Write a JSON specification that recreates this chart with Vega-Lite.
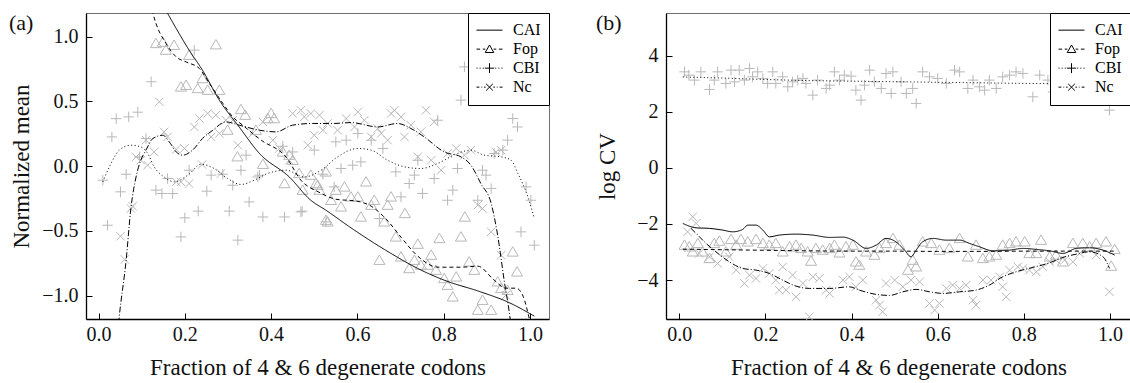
{
  "$schema": "https://vega.github.io/schema/vega-lite/v6.json",
  "padding": {"left": 8, "top": 11, "right": 0, "bottom": 0},
  "spacing": 45,
  "config": {
    "font": "Liberation Serif",
    "view": {"stroke": "#707070", "strokeWidth": 1},
    "axis": {"grid": false, "domainColor": "#000", "domainWidth": 1.3, "tickColor": "#000", "tickSize": -6, "tickWidth": 1,
      "labelFont": "Liberation Serif", "labelFontSize": 20, "labelColor": "#111",
      "titleFont": "Liberation Serif", "titleFontSize": 23, "titleFontWeight": "normal", "titleColor": "#111"},
    "axisX": {"labelPadding": 11, "titlePadding": 12},
    "axisY": {"labelPadding": 14},
    "legend": {"title": null, "orient": "top-right", "offset": 0, "padding": 8, "strokeColor": "#000", "fillColor": "#fff",
      "symbolSize": 676, "symbolStrokeWidth": 1, "symbolStrokeColor": "#000", "symbolFillColor": "transparent", "symbolOpacity": 1,
      "clipHeight": 18.3,
      "labelFont": "Liberation Serif", "labelFontSize": 16, "labelColor": "#000", "labelOffset": 10, "rowPadding": 0},
    "title": {"anchor": "start", "frame": "group", "offset": 0, "fontSize": 22, "font": "Liberation Serif", "fontWeight": "normal", "color": "#111"}
  },
  "resolve": {"scale": {"shape": "independent", "strokeDash": "independent"}, "legend": {"shape": "independent"}},
  "datasets": {
    "aPts": [
      {"s":"Fop","x":0.133,"y":0.948},{"s":"Fop","x":0.149,"y":0.958},{"s":"Fop","x":0.156,"y":0.896},{"s":"Fop","x":0.175,"y":0.934},
      {"s":"Fop","x":0.272,"y":0.938},{"s":"Fop","x":0.210,"y":0.857},{"s":"Fop","x":0.241,"y":0.677},{"s":"Fop","x":0.191,"y":0.612},
      {"s":"Fop","x":0.203,"y":0.625},{"s":"Fop","x":0.230,"y":0.600},{"s":"Fop","x":0.253,"y":0.587},{"s":"Fop","x":0.280,"y":0.587},
      {"s":"Fop","x":0.330,"y":0.438},{"s":"Fop","x":0.340,"y":0.394},{"s":"Fop","x":0.299,"y":0.278},{"s":"Fop","x":0.400,"y":0.407},
      {"s":"Fop","x":0.407,"y":0.368},{"s":"Fop","x":0.392,"y":0.368},{"s":"Fop","x":0.365,"y":0.278},{"s":"Fop","x":0.322,"y":0.073},
      {"s":"Fop","x":0.381,"y":0.015},{"s":"Fop","x":0.427,"y":0.110},{"s":"Fop","x":0.442,"y":0.085},{"s":"Fop","x":0.450,"y":0.046},
      {"s":"Fop","x":0.465,"y":-0.056},{"s":"Fop","x":0.492,"y":-0.069},{"s":"Fop","x":0.527,"y":-0.044},{"s":"Fop","x":0.431,"y":-0.134},
      {"s":"Fop","x":0.473,"y":-0.185},{"s":"Fop","x":0.504,"y":-0.134},{"s":"Fop","x":0.512,"y":-0.185},{"s":"Fop","x":0.527,"y":-0.417},
      {"s":"Fop","x":0.508,"y":-0.147},{"s":"Fop","x":0.550,"y":-0.185},{"s":"Fop","x":0.570,"y":-0.160},{"s":"Fop","x":0.562,"y":-0.314},
      {"s":"Fop","x":0.539,"y":-0.263},{"s":"Fop","x":0.601,"y":-0.237},{"s":"Fop","x":0.585,"y":-0.237},{"s":"Fop","x":0.620,"y":-0.121},
      {"s":"Fop","x":0.639,"y":-0.263},{"s":"Fop","x":0.632,"y":-0.301},{"s":"Fop","x":0.678,"y":-0.237},{"s":"Fop","x":0.670,"y":-0.301},
      {"s":"Fop","x":0.710,"y":-0.365},{"s":"Fop","x":0.608,"y":-0.392},{"s":"Fop","x":0.662,"y":-0.430},{"s":"Fop","x":0.531,"y":-0.430},
      {"s":"Fop","x":0.689,"y":-0.546},{"s":"Fop","x":0.740,"y":-0.602},{"s":"Fop","x":0.790,"y":-0.558},{"s":"Fop","x":0.840,"y":-0.546},
      {"s":"Fop","x":0.849,"y":-0.392},{"s":"Fop","x":0.651,"y":-0.726},{"s":"Fop","x":0.701,"y":-0.700},{"s":"Fop","x":0.720,"y":-0.790},
      {"s":"Fop","x":0.732,"y":-0.726},{"s":"Fop","x":0.747,"y":-0.764},{"s":"Fop","x":0.771,"y":-0.687},{"s":"Fop","x":0.763,"y":-0.764},
      {"s":"Fop","x":0.782,"y":-0.803},{"s":"Fop","x":0.809,"y":-0.919},{"s":"Fop","x":0.829,"y":-0.855},{"s":"Fop","x":0.801,"y":-0.867},
      {"s":"Fop","x":0.859,"y":-0.739},{"s":"Fop","x":0.871,"y":-0.803},{"s":"Fop","x":0.925,"y":-0.893},{"s":"Fop","x":0.933,"y":-0.944},
      {"s":"Fop","x":0.890,"y":-1.035},{"s":"Fop","x":0.821,"y":-1.009},{"s":"Fop","x":0.879,"y":-1.112},{"s":"Fop","x":0.910,"y":-1.112},
      {"s":"Fop","x":0.960,"y":-0.662},{"s":"Fop","x":0.970,"y":-0.816},{"s":"Fop","x":0.948,"y":-0.958},
      {"s":"CBI","x":0.222,"y":0.896},{"s":"CBI","x":0.122,"y":0.652},{"s":"CBI","x":0.041,"y":0.367},{"s":"CBI","x":0.070,"y":0.381},
      {"s":"CBI","x":0.091,"y":0.417},{"s":"CBI","x":0.031,"y":0.226},{"s":"CBI","x":0.110,"y":0.214},{"s":"CBI","x":0.095,"y":0.072},
      {"s":"CBI","x":0.210,"y":-0.031},{"s":"CBI","x":0.261,"y":-0.069},{"s":"CBI","x":0.288,"y":-0.062},{"s":"CBI","x":0.330,"y":-0.031},
      {"s":"CBI","x":0.342,"y":0.085},{"s":"CBI","x":0.373,"y":-0.069},{"s":"CBI","x":0.427,"y":0.154},{"s":"CBI","x":0.450,"y":0.110},
      {"s":"CBI","x":0.500,"y":0.124},{"s":"CBI","x":0.520,"y":-0.062},{"s":"CBI","x":0.064,"y":-0.062},{"s":"CBI","x":0.010,"y":-0.108},
      {"s":"CBI","x":0.051,"y":-0.198},{"s":"CBI","x":0.021,"y":-0.456},{"s":"CBI","x":0.133,"y":-0.185},{"s":"CBI","x":0.147,"y":-0.211},
      {"s":"CBI","x":0.172,"y":-0.211},{"s":"CBI","x":0.200,"y":-0.399},{"s":"CBI","x":0.231,"y":-0.347},{"s":"CBI","x":0.191,"y":-0.546},
      {"s":"CBI","x":0.251,"y":-0.193},{"s":"CBI","x":0.303,"y":-0.347},{"s":"CBI","x":0.323,"y":-0.571},{"s":"CBI","x":0.349,"y":-0.276},
      {"s":"CBI","x":0.381,"y":-0.392},{"s":"CBI","x":0.369,"y":-0.083},{"s":"CBI","x":0.431,"y":-0.392},{"s":"CBI","x":0.472,"y":-0.347},
      {"s":"CBI","x":0.311,"y":-0.147},{"s":"CBI","x":0.160,"y":-0.095},{"s":"CBI","x":0.527,"y":-0.430},{"s":"CBI","x":0.550,"y":0.188},
      {"s":"CBI","x":0.574,"y":0.201},{"s":"CBI","x":0.601,"y":0.253},{"s":"CBI","x":0.632,"y":0.201},{"s":"CBI","x":0.659,"y":0.137},
      {"s":"CBI","x":0.562,"y":-0.018},{"s":"CBI","x":0.589,"y":0.008},{"s":"CBI","x":0.608,"y":0.033},{"s":"CBI","x":0.689,"y":-0.044},
      {"s":"CBI","x":0.732,"y":-0.069},{"s":"CBI","x":0.720,"y":-0.134},{"s":"CBI","x":0.740,"y":0.046},{"s":"CBI","x":0.778,"y":-0.095},
      {"s":"CBI","x":0.786,"y":0.355},{"s":"CBI","x":0.821,"y":-0.185},{"s":"CBI","x":0.809,"y":-0.263},{"s":"CBI","x":0.751,"y":-0.211},
      {"s":"CBI","x":0.701,"y":-0.237},{"s":"CBI","x":0.832,"y":-0.018},{"s":"CBI","x":0.890,"y":-0.031},{"s":"CBI","x":0.898,"y":-0.069},
      {"s":"CBI","x":0.910,"y":-0.172},{"s":"CBI","x":0.879,"y":-0.263},{"s":"CBI","x":0.840,"y":0.510},{"s":"CBI","x":0.848,"y":0.767},
      {"s":"CBI","x":0.960,"y":0.368},{"s":"CBI","x":0.971,"y":0.303},{"s":"CBI","x":0.948,"y":0.201},{"s":"CBI","x":0.937,"y":0.124},
      {"s":"CBI","x":0.917,"y":0.098},{"s":"CBI","x":0.991,"y":-0.160},{"s":"CBI","x":1.002,"y":-0.263},{"s":"CBI","x":0.979,"y":-0.507},
      {"s":"CBI","x":1.010,"y":-0.610},{"s":"CBI","x":0.546,"y":-0.160},{"s":"CBI","x":0.651,"y":-0.404},{"s":"CBI","x":0.469,"y":-0.353},
      {"s":"Nc","x":0.141,"y":0.497},{"s":"Nc","x":0.152,"y":0.265},{"s":"Nc","x":0.160,"y":0.226},{"s":"Nc","x":0.180,"y":0.129},
      {"s":"Nc","x":0.199,"y":0.137},{"s":"Nc","x":0.110,"y":0.201},{"s":"Nc","x":0.129,"y":0.110},{"s":"Nc","x":0.087,"y":0.072},
      {"s":"Nc","x":0.098,"y":0.046},{"s":"Nc","x":0.114,"y":0.008},{"s":"Nc","x":0.222,"y":0.303},{"s":"Nc","x":0.234,"y":0.368},
      {"s":"Nc","x":0.253,"y":0.407},{"s":"Nc","x":0.272,"y":0.394},{"s":"Nc","x":0.261,"y":0.226},{"s":"Nc","x":0.280,"y":0.253},
      {"s":"Nc","x":0.295,"y":0.355},{"s":"Nc","x":0.311,"y":0.355},{"s":"Nc","x":0.323,"y":0.162},{"s":"Nc","x":0.357,"y":0.253},
      {"s":"Nc","x":0.381,"y":0.342},{"s":"Nc","x":0.404,"y":0.201},{"s":"Nc","x":0.419,"y":0.137},{"s":"Nc","x":0.450,"y":0.407},
      {"s":"Nc","x":0.469,"y":0.432},{"s":"Nc","x":0.512,"y":0.394},{"s":"Nc","x":0.500,"y":0.239},{"s":"Nc","x":0.485,"y":0.162},
      {"s":"Nc","x":0.240,"y":0.013},{"s":"Nc","x":0.284,"y":-0.056},{"s":"Nc","x":0.051,"y":-0.541},{"s":"Nc","x":0.061,"y":-0.720},
      {"s":"Nc","x":0.075,"y":-0.327},{"s":"Nc","x":0.079,"y":-0.309},{"s":"Nc","x":0.180,"y":-0.121},{"s":"Nc","x":0.191,"y":-0.121},
      {"s":"Nc","x":0.210,"y":-0.134},{"s":"Nc","x":0.442,"y":0.046},{"s":"Nc","x":0.477,"y":0.381},{"s":"Nc","x":0.492,"y":0.407},
      {"s":"Nc","x":0.520,"y":0.278},{"s":"Nc","x":0.531,"y":0.330},{"s":"Nc","x":0.554,"y":0.278},{"s":"Nc","x":0.574,"y":0.368},
      {"s":"Nc","x":0.593,"y":0.303},{"s":"Nc","x":0.601,"y":0.419},{"s":"Nc","x":0.616,"y":0.355},{"s":"Nc","x":0.632,"y":0.226},
      {"s":"Nc","x":0.647,"y":0.291},{"s":"Nc","x":0.655,"y":0.253},{"s":"Nc","x":0.678,"y":0.407},{"s":"Nc","x":0.686,"y":0.432},
      {"s":"Nc","x":0.701,"y":0.381},{"s":"Nc","x":0.709,"y":0.226},{"s":"Nc","x":0.724,"y":0.317},{"s":"Nc","x":0.747,"y":0.265},
      {"s":"Nc","x":0.759,"y":0.432},{"s":"Nc","x":0.778,"y":0.342},{"s":"Nc","x":0.670,"y":0.201},{"s":"Nc","x":0.740,"y":0.072},
      {"s":"Nc","x":0.771,"y":0.046},{"s":"Nc","x":0.794,"y":-0.031},{"s":"Nc","x":0.809,"y":0.098},{"s":"Nc","x":0.829,"y":0.137},
      {"s":"Nc","x":0.848,"y":0.085},{"s":"Nc","x":0.863,"y":0.124},{"s":"Nc","x":0.879,"y":-0.301},{"s":"Nc","x":0.890,"y":-0.327},
      {"s":"Nc","x":0.910,"y":-0.507},{"s":"Nc","x":0.921,"y":0.110},{"s":"Nc","x":0.933,"y":0.124},{"s":"Nc","x":0.933,"y":-0.687},
      {"s":"Nc","x":0.944,"y":-0.996}
    ],
    "aLines": [
      {"s":"CAI","x":0.13,"y":1.36},{"s":"CAI","x":0.160,"y":1.181},{"s":"CAI","x":0.210,"y":0.896},{"s":"CAI","x":0.241,"y":0.741},
      {"s":"CAI","x":0.280,"y":0.510},{"s":"CAI","x":0.326,"y":0.303},{"s":"CAI","x":0.373,"y":0.098},{"s":"CAI","x":0.442,"y":-0.083},
      {"s":"CAI","x":0.492,"y":-0.263},{"s":"CAI","x":0.527,"y":-0.340},{"s":"CAI","x":0.593,"y":-0.494},{"s":"CAI","x":0.678,"y":-0.674},
      {"s":"CAI","x":0.740,"y":-0.790},{"s":"CAI","x":0.801,"y":-0.880},{"s":"CAI","x":0.886,"y":-0.971},{"s":"CAI","x":0.948,"y":-1.048},
      {"s":"CAI","x":1.010,"y":-1.158},
      {"s":"Fop","x":0.12,"y":1.26},{"s":"Fop","x":0.126,"y":1.181},{"s":"Fop","x":0.133,"y":1.104},{"s":"Fop","x":0.156,"y":0.950},
      {"s":"Fop","x":0.180,"y":0.844},{"s":"Fop","x":0.203,"y":0.805},{"s":"Fop","x":0.234,"y":0.754},{"s":"Fop","x":0.257,"y":0.639},
      {"s":"Fop","x":0.288,"y":0.486},{"s":"Fop","x":0.311,"y":0.381},{"s":"Fop","x":0.334,"y":0.317},{"s":"Fop","x":0.377,"y":0.201},
      {"s":"Fop","x":0.435,"y":0.069},{"s":"Fop","x":0.469,"y":-0.108},{"s":"Fop","x":0.511,"y":-0.201},{"s":"Fop","x":0.550,"y":-0.255},
      {"s":"Fop","x":0.599,"y":-0.270},{"s":"Fop","x":0.632,"y":-0.309},{"s":"Fop","x":0.671,"y":-0.425},{"s":"Fop","x":0.701,"y":-0.548},
      {"s":"Fop","x":0.740,"y":-0.695},{"s":"Fop","x":0.787,"y":-0.780},{"s":"Fop","x":0.840,"y":-0.780},{"s":"Fop","x":0.879,"y":-0.772},
      {"s":"Fop","x":0.917,"y":-0.880},{"s":"Fop","x":0.944,"y":-0.942},{"s":"Fop","x":0.968,"y":-0.942},{"s":"Fop","x":0.984,"y":-1.004},
      {"s":"Fop","x":0.998,"y":-1.174},
      {"s":"CBI","x":0.010,"y":-0.121},{"s":"CBI","x":0.029,"y":0.021},{"s":"CBI","x":0.048,"y":0.124},{"s":"CBI","x":0.075,"y":0.162},
      {"s":"CBI","x":0.098,"y":0.149},{"s":"CBI","x":0.114,"y":0.098},{"s":"CBI","x":0.129,"y":-0.005},{"s":"CBI","x":0.152,"y":-0.083},
      {"s":"CBI","x":0.176,"y":-0.121},{"s":"CBI","x":0.207,"y":-0.069},{"s":"CBI","x":0.238,"y":0.015},{"s":"CBI","x":0.268,"y":-0.018},
      {"s":"CBI","x":0.299,"y":-0.095},{"s":"CBI","x":0.330,"y":-0.141},{"s":"CBI","x":0.361,"y":-0.108},{"s":"CBI","x":0.392,"y":-0.056},
      {"s":"CBI","x":0.435,"y":-0.031},{"s":"CBI","x":0.477,"y":-0.083},{"s":"CBI","x":0.516,"y":-0.031},{"s":"CBI","x":0.554,"y":0.072},
      {"s":"CBI","x":0.601,"y":0.137},{"s":"CBI","x":0.632,"y":0.124},{"s":"CBI","x":0.670,"y":0.046},{"s":"CBI","x":0.709,"y":-0.005},
      {"s":"CBI","x":0.747,"y":-0.018},{"s":"CBI","x":0.786,"y":0.021},{"s":"CBI","x":0.832,"y":0.098},{"s":"CBI","x":0.863,"y":0.124},
      {"s":"CBI","x":0.894,"y":0.085},{"s":"CBI","x":0.933,"y":0.072},{"s":"CBI","x":0.956,"y":0.046},{"s":"CBI","x":0.972,"y":-0.056},
      {"s":"CBI","x":0.995,"y":-0.237},{"s":"CBI","x":1.010,"y":-0.404},
      {"s":"Nc","x":0.044,"y":-1.30},{"s":"Nc","x":0.048,"y":-1.164},{"s":"Nc","x":0.064,"y":-0.726},{"s":"Nc","x":0.075,"y":-0.327},
      {"s":"Nc","x":0.087,"y":-0.083},{"s":"Nc","x":0.098,"y":0.046},{"s":"Nc","x":0.110,"y":0.124},{"s":"Nc","x":0.126,"y":0.214},
      {"s":"Nc","x":0.149,"y":0.239},{"s":"Nc","x":0.164,"y":0.188},{"s":"Nc","x":0.180,"y":0.110},{"s":"Nc","x":0.195,"y":0.085},
      {"s":"Nc","x":0.218,"y":0.124},{"s":"Nc","x":0.241,"y":0.214},{"s":"Nc","x":0.265,"y":0.278},{"s":"Nc","x":0.295,"y":0.342},
      {"s":"Nc","x":0.326,"y":0.317},{"s":"Nc","x":0.373,"y":0.278},{"s":"Nc","x":0.411,"y":0.265},{"s":"Nc","x":0.450,"y":0.317},
      {"s":"Nc","x":0.496,"y":0.330},{"s":"Nc","x":0.546,"y":0.330},{"s":"Nc","x":0.585,"y":0.337},{"s":"Nc","x":0.647,"y":0.303},
      {"s":"Nc","x":0.693,"y":0.330},{"s":"Nc","x":0.724,"y":0.291},{"s":"Nc","x":0.755,"y":0.226},{"s":"Nc","x":0.801,"y":0.110},
      {"s":"Nc","x":0.840,"y":0.072},{"s":"Nc","x":0.863,"y":0.008},{"s":"Nc","x":0.886,"y":-0.134},{"s":"Nc","x":0.910,"y":-0.288},
      {"s":"Nc","x":0.925,"y":-0.533},{"s":"Nc","x":0.940,"y":-0.880},{"s":"Nc","x":0.954,"y":-1.181},{"s":"Nc","x":0.958,"y":-1.30}
    ],
    "bPts": [
      {"s":"CBI","x":0.012,"y":3.422},{"s":"CBI","x":0.022,"y":3.305},{"s":"CBI","x":0.035,"y":3.127},{"s":"CBI","x":0.050,"y":3.422},
      {"s":"CBI","x":0.070,"y":2.795},{"s":"CBI","x":0.081,"y":3.127},{"s":"CBI","x":0.089,"y":3.422},{"s":"CBI","x":0.108,"y":3.009},
      {"s":"CBI","x":0.120,"y":3.483},{"s":"CBI","x":0.128,"y":3.066},{"s":"CBI","x":0.139,"y":3.483},{"s":"CBI","x":0.151,"y":3.127},
      {"s":"CBI","x":0.163,"y":3.544},{"s":"CBI","x":0.170,"y":3.244},{"s":"CBI","x":0.182,"y":3.422},{"s":"CBI","x":0.194,"y":3.187},
      {"s":"CBI","x":0.205,"y":3.009},{"s":"CBI","x":0.217,"y":3.422},{"s":"CBI","x":0.224,"y":3.009},{"s":"CBI","x":0.240,"y":3.244},
      {"s":"CBI","x":0.252,"y":2.888},{"s":"CBI","x":0.263,"y":3.066},{"s":"CBI","x":0.275,"y":3.127},{"s":"CBI","x":0.287,"y":3.187},
      {"s":"CBI","x":0.294,"y":3.009},{"s":"CBI","x":0.310,"y":2.592},{"s":"CBI","x":0.321,"y":3.127},{"s":"CBI","x":0.341,"y":2.831},
      {"s":"CBI","x":0.349,"y":2.948},{"s":"CBI","x":0.360,"y":3.422},{"s":"CBI","x":0.372,"y":3.127},{"s":"CBI","x":0.383,"y":3.305},
      {"s":"CBI","x":0.399,"y":3.269},{"s":"CBI","x":0.410,"y":2.770},{"s":"CBI","x":0.422,"y":2.414},{"s":"CBI","x":0.430,"y":2.948},
      {"s":"CBI","x":0.442,"y":3.483},{"s":"CBI","x":0.453,"y":3.066},{"s":"CBI","x":0.469,"y":2.831},{"s":"CBI","x":0.480,"y":3.365},
      {"s":"CBI","x":0.496,"y":3.422},{"s":"CBI","x":0.492,"y":2.652},{"s":"CBI","x":0.515,"y":3.066},{"s":"CBI","x":0.527,"y":2.652},
      {"s":"CBI","x":0.542,"y":2.831},{"s":"CBI","x":0.550,"y":2.296},{"s":"CBI","x":0.565,"y":3.422},{"s":"CBI","x":0.581,"y":3.244},
      {"s":"CBI","x":0.600,"y":3.187},{"s":"CBI","x":0.620,"y":3.009},{"s":"CBI","x":0.639,"y":3.483},{"s":"CBI","x":0.651,"y":3.422},
      {"s":"CBI","x":0.670,"y":2.831},{"s":"CBI","x":0.682,"y":3.127},{"s":"CBI","x":0.697,"y":2.888},{"s":"CBI","x":0.709,"y":2.770},
      {"s":"CBI","x":0.720,"y":3.127},{"s":"CBI","x":0.736,"y":2.831},{"s":"CBI","x":0.751,"y":3.244},{"s":"CBI","x":0.767,"y":3.305},
      {"s":"CBI","x":0.782,"y":3.422},{"s":"CBI","x":0.798,"y":3.365},{"s":"CBI","x":0.821,"y":2.531},{"s":"CBI","x":0.837,"y":3.305},
      {"s":"CBI","x":0.856,"y":3.127},{"s":"CBI","x":0.868,"y":2.709},{"s":"CBI","x":0.883,"y":2.770},{"s":"CBI","x":0.895,"y":2.948},
      {"s":"CBI","x":0.922,"y":3.066},{"s":"CBI","x":0.937,"y":3.244},{"s":"CBI","x":0.953,"y":3.305},{"s":"CBI","x":0.968,"y":3.127},
      {"s":"CBI","x":0.984,"y":3.305},{"s":"CBI","x":0.999,"y":2.057},{"s":"CBI","x":1.015,"y":3.127},
      {"s":"Fop","x":0.012,"y":-2.756},{"s":"Fop","x":0.023,"y":-2.816},{"s":"Fop","x":0.031,"y":-2.995},{"s":"Fop","x":0.043,"y":-2.695},
      {"s":"Fop","x":0.054,"y":-2.995},{"s":"Fop","x":0.070,"y":-3.230},{"s":"Fop","x":0.081,"y":-2.695},{"s":"Fop","x":0.093,"y":-2.613},
      {"s":"Fop","x":0.108,"y":-2.995},{"s":"Fop","x":0.120,"y":-2.553},{"s":"Fop","x":0.132,"y":-2.756},{"s":"Fop","x":0.143,"y":-2.553},
      {"s":"Fop","x":0.159,"y":-2.638},{"s":"Fop","x":0.178,"y":-2.553},{"s":"Fop","x":0.194,"y":-2.695},{"s":"Fop","x":0.209,"y":-2.756},
      {"s":"Fop","x":0.224,"y":-2.695},{"s":"Fop","x":0.240,"y":-2.995},{"s":"Fop","x":0.256,"y":-2.816},{"s":"Fop","x":0.271,"y":-2.756},
      {"s":"Fop","x":0.283,"y":-2.873},{"s":"Fop","x":0.298,"y":-2.995},{"s":"Fop","x":0.306,"y":-3.326},{"s":"Fop","x":0.317,"y":-2.873},
      {"s":"Fop","x":0.333,"y":-2.934},{"s":"Fop","x":0.349,"y":-2.873},{"s":"Fop","x":0.360,"y":-2.756},{"s":"Fop","x":0.372,"y":-3.030},
      {"s":"Fop","x":0.387,"y":-2.816},{"s":"Fop","x":0.403,"y":-2.756},{"s":"Fop","x":0.410,"y":-3.351},{"s":"Fop","x":0.418,"y":-3.469},
      {"s":"Fop","x":0.434,"y":-2.995},{"s":"Fop","x":0.453,"y":-3.112},{"s":"Fop","x":0.465,"y":-2.873},{"s":"Fop","x":0.480,"y":-2.695},
      {"s":"Fop","x":0.496,"y":-2.517},{"s":"Fop","x":0.511,"y":-2.756},{"s":"Fop","x":0.531,"y":-3.647},{"s":"Fop","x":0.542,"y":-3.291},
      {"s":"Fop","x":0.550,"y":-3.529},{"s":"Fop","x":0.565,"y":-2.638},{"s":"Fop","x":0.585,"y":-2.695},{"s":"Fop","x":0.604,"y":-2.934},
      {"s":"Fop","x":0.627,"y":-2.873},{"s":"Fop","x":0.651,"y":-2.517},{"s":"Fop","x":0.670,"y":-3.173},{"s":"Fop","x":0.689,"y":-2.756},
      {"s":"Fop","x":0.705,"y":-3.230},{"s":"Fop","x":0.720,"y":-3.173},{"s":"Fop","x":0.736,"y":-3.112},{"s":"Fop","x":0.751,"y":-2.756},
      {"s":"Fop","x":0.767,"y":-2.695},{"s":"Fop","x":0.782,"y":-2.638},{"s":"Fop","x":0.802,"y":-2.638},{"s":"Fop","x":0.813,"y":-3.052},
      {"s":"Fop","x":0.829,"y":-3.052},{"s":"Fop","x":0.840,"y":-2.578},{"s":"Fop","x":0.860,"y":-3.173},{"s":"Fop","x":0.875,"y":-3.112},
      {"s":"Fop","x":0.891,"y":-3.351},{"s":"Fop","x":0.914,"y":-2.695},{"s":"Fop","x":0.937,"y":-2.695},{"s":"Fop","x":0.953,"y":-2.816},
      {"s":"Fop","x":0.968,"y":-2.695},{"s":"Fop","x":0.991,"y":-2.638},{"s":"Fop","x":1.003,"y":-3.504},{"s":"Fop","x":1.011,"y":-2.909},
      {"s":"Nc","x":0.031,"y":-1.747},{"s":"Nc","x":0.039,"y":-1.982},{"s":"Nc","x":0.019,"y":-2.282},{"s":"Nc","x":0.046,"y":-3.052},
      {"s":"Nc","x":0.070,"y":-3.173},{"s":"Nc","x":0.089,"y":-3.408},{"s":"Nc","x":0.116,"y":-3.173},{"s":"Nc","x":0.132,"y":-3.647},
      {"s":"Nc","x":0.151,"y":-4.121},{"s":"Nc","x":0.163,"y":-3.825},{"s":"Nc","x":0.178,"y":-3.943},{"s":"Nc","x":0.194,"y":-3.586},
      {"s":"Nc","x":0.209,"y":-3.765},{"s":"Nc","x":0.224,"y":-4.004},{"s":"Nc","x":0.240,"y":-3.529},{"s":"Nc","x":0.232,"y":-4.360},
      {"s":"Nc","x":0.248,"y":-4.360},{"s":"Nc","x":0.263,"y":-3.825},{"s":"Nc","x":0.271,"y":-4.599},{"s":"Nc","x":0.287,"y":-4.121},
      {"s":"Nc","x":0.302,"y":-5.312},{"s":"Nc","x":0.310,"y":-3.886},{"s":"Nc","x":0.325,"y":-3.943},{"s":"Nc","x":0.341,"y":-4.360},
      {"s":"Nc","x":0.349,"y":-4.478},{"s":"Nc","x":0.380,"y":-4.004},{"s":"Nc","x":0.395,"y":-3.886},{"s":"Nc","x":0.410,"y":-4.242},
      {"s":"Nc","x":0.426,"y":-4.004},{"s":"Nc","x":0.457,"y":-4.717},{"s":"Nc","x":0.465,"y":-4.895},{"s":"Nc","x":0.472,"y":-5.134},
      {"s":"Nc","x":0.480,"y":-4.121},{"s":"Nc","x":0.500,"y":-4.004},{"s":"Nc","x":0.519,"y":-4.242},{"s":"Nc","x":0.538,"y":-4.004},
      {"s":"Nc","x":0.558,"y":-4.064},{"s":"Nc","x":0.581,"y":-4.834},{"s":"Nc","x":0.604,"y":-4.834},{"s":"Nc","x":0.593,"y":-5.073},
      {"s":"Nc","x":0.620,"y":-4.300},{"s":"Nc","x":0.635,"y":-4.182},{"s":"Nc","x":0.651,"y":-4.300},{"s":"Nc","x":0.666,"y":-4.182},
      {"s":"Nc","x":0.682,"y":-4.717},{"s":"Nc","x":0.689,"y":-4.895},{"s":"Nc","x":0.705,"y":-4.004},{"s":"Nc","x":0.724,"y":-4.004},
      {"s":"Nc","x":0.744,"y":-3.886},{"s":"Nc","x":0.759,"y":-4.599},{"s":"Nc","x":0.751,"y":-4.242},{"s":"Nc","x":0.767,"y":-3.647},
      {"s":"Nc","x":0.786,"y":-3.529},{"s":"Nc","x":0.798,"y":-3.586},{"s":"Nc","x":0.813,"y":-3.647},{"s":"Nc","x":0.829,"y":-3.708},
      {"s":"Nc","x":0.844,"y":-3.529},{"s":"Nc","x":0.860,"y":-3.351},{"s":"Nc","x":0.875,"y":-3.291},{"s":"Nc","x":0.895,"y":-3.291},
      {"s":"Nc","x":0.914,"y":-3.351},{"s":"Nc","x":0.930,"y":-3.052},{"s":"Nc","x":0.968,"y":-3.112},{"s":"Nc","x":0.999,"y":-4.421}
    ],
    "bLines": [
      {"s":"CAI","x":0.008,"y":-1.982},{"s":"CAI","x":0.039,"y":-2.139},{"s":"CAI","x":0.070,"y":-2.160},{"s":"CAI","x":0.101,"y":-2.221},
      {"s":"CAI","x":0.124,"y":-2.282},{"s":"CAI","x":0.147,"y":-2.196},{"s":"CAI","x":0.159,"y":-2.043},{"s":"CAI","x":0.178,"y":-2.043},
      {"s":"CAI","x":0.194,"y":-2.221},{"s":"CAI","x":0.209,"y":-2.460},{"s":"CAI","x":0.232,"y":-2.399},{"s":"CAI","x":0.271,"y":-2.364},
      {"s":"CAI","x":0.310,"y":-2.399},{"s":"CAI","x":0.349,"y":-2.481},{"s":"CAI","x":0.380,"y":-2.471},{"s":"CAI","x":0.403,"y":-2.578},
      {"s":"CAI","x":0.434,"y":-2.873},{"s":"CAI","x":0.457,"y":-2.756},{"s":"CAI","x":0.480,"y":-2.517},{"s":"CAI","x":0.503,"y":-2.638},
      {"s":"CAI","x":0.523,"y":-2.934},{"s":"CAI","x":0.538,"y":-3.173},{"s":"CAI","x":0.550,"y":-2.934},{"s":"CAI","x":0.565,"y":-2.638},
      {"s":"CAI","x":0.589,"y":-2.517},{"s":"CAI","x":0.620,"y":-2.578},{"s":"CAI","x":0.651,"y":-2.578},{"s":"CAI","x":0.674,"y":-2.695},
      {"s":"CAI","x":0.697,"y":-2.816},{"s":"CAI","x":0.728,"y":-2.959},{"s":"CAI","x":0.767,"y":-2.934},{"s":"CAI","x":0.798,"y":-2.873},
      {"s":"CAI","x":0.829,"y":-2.909},{"s":"CAI","x":0.860,"y":-2.959},{"s":"CAI","x":0.891,"y":-3.052},{"s":"CAI","x":0.922,"y":-2.873},
      {"s":"CAI","x":0.953,"y":-2.852},{"s":"CAI","x":0.984,"y":-2.934},{"s":"CAI","x":1.011,"y":-3.112},
      {"s":"Fop","x":0.008,"y":-2.90},{"s":"Fop","x":0.1,"y":-2.92},{"s":"Fop","x":0.2,"y":-2.94},{"s":"Fop","x":0.3,"y":-2.96},
      {"s":"Fop","x":0.4,"y":-2.97},{"s":"Fop","x":0.5,"y":-2.97},{"s":"Fop","x":0.6,"y":-2.98},{"s":"Fop","x":0.7,"y":-2.98},
      {"s":"Fop","x":0.8,"y":-2.97},{"s":"Fop","x":0.9,"y":-2.97},{"s":"Fop","x":1.011,"y":-2.97},
      {"s":"CBI","x":0.008,"y":3.24},{"s":"CBI","x":0.1,"y":3.20},{"s":"CBI","x":0.2,"y":3.15},{"s":"CBI","x":0.3,"y":3.11},
      {"s":"CBI","x":0.4,"y":3.09},{"s":"CBI","x":0.5,"y":3.07},{"s":"CBI","x":0.6,"y":3.05},{"s":"CBI","x":0.7,"y":3.03},
      {"s":"CBI","x":0.8,"y":3.01},{"s":"CBI","x":0.9,"y":3.0},{"s":"CBI","x":1.011,"y":2.96},
      {"s":"Nc","x":0.027,"y":-2.160},{"s":"Nc","x":0.039,"y":-2.339},{"s":"Nc","x":0.062,"y":-2.695},{"s":"Nc","x":0.085,"y":-2.995},
      {"s":"Nc","x":0.116,"y":-3.351},{"s":"Nc","x":0.147,"y":-3.586},{"s":"Nc","x":0.178,"y":-3.647},{"s":"Nc","x":0.209,"y":-3.765},
      {"s":"Nc","x":0.240,"y":-4.004},{"s":"Nc","x":0.271,"y":-4.218},{"s":"Nc","x":0.302,"y":-4.300},{"s":"Nc","x":0.349,"y":-4.300},
      {"s":"Nc","x":0.395,"y":-4.242},{"s":"Nc","x":0.418,"y":-4.360},{"s":"Nc","x":0.457,"y":-4.513},{"s":"Nc","x":0.488,"y":-4.549},
      {"s":"Nc","x":0.519,"y":-4.421},{"s":"Nc","x":0.550,"y":-4.335},{"s":"Nc","x":0.581,"y":-4.421},{"s":"Nc","x":0.612,"y":-4.478},
      {"s":"Nc","x":0.651,"y":-4.421},{"s":"Nc","x":0.689,"y":-4.360},{"s":"Nc","x":0.720,"y":-4.182},{"s":"Nc","x":0.751,"y":-3.886},
      {"s":"Nc","x":0.782,"y":-3.708},{"s":"Nc","x":0.821,"y":-3.551},{"s":"Nc","x":0.860,"y":-3.387},{"s":"Nc","x":0.891,"y":-3.194},
      {"s":"Nc","x":0.922,"y":-3.077},{"s":"Nc","x":0.953,"y":-2.995},{"s":"Nc","x":0.984,"y":-3.173},{"s":"Nc","x":0.999,"y":-3.586}
    ]
  },
  "hconcat": [
    {
      "width": 463, "height": 306,
      "title": {"text": "(a)", "dx": -77, "dy": 26},
      "resolve": {"scale": {"shape": "independent"}, "legend": {"shape": "independent"}},
      "layer": [
        {
          "data": {"name": "aPts"},
          "mark": {"type": "point", "filled": false, "opacity": 1, "color": "#b8b8b8", "strokeWidth": 1, "size": 110},
          "encoding": {
            "x": {"field": "x", "type": "quantitative", "scale": {"domain": [-0.029, 1.044], "nice": false, "zero": false},
              "axis": {"values": [0, 0.2, 0.4, 0.6, 0.8, 1], "format": ".1f", "title": "Fraction of 4 & 6 degenerate codons"}},
            "y": {"field": "y", "type": "quantitative", "scale": {"domain": [-1.18, 1.183], "nice": false, "zero": false},
              "axis": {"values": [-1, -0.5, 0, 0.5, 1], "format": ".1f", "title": "Normalized mean", "titlePadding": 8}},
            "shape": {"field": "s", "type": "nominal",
              "scale": {"domain": ["CAI", "Fop", "CBI", "Nc"], "range": ["M0,0", "M0,-1L1.05,0.8L-1.05,0.8Z", "M-1,0H1M0,-1V1", "M-0.8,-0.8L0.8,0.8M-0.8,0.8L0.8,-0.8"]},
              "legend": null}
          }
        },
        {
          "data": {"name": "aLines"},
          "mark": {"type": "line", "color": "#000", "strokeWidth": 1, "clip": true, "interpolate": "monotone"},
          "encoding": {
            "x": {"field": "x", "type": "quantitative"},
            "y": {"field": "y", "type": "quantitative"},
            "strokeDash": {"field": "s", "type": "nominal", "scale": {"domain": ["Fop", "CAI", "CBI", "Nc"], "range": [[4, 3], [1, 0], [1, 2.5], [6, 2, 1, 2]]}, "legend": null}
          }
        },
        {
          "data": {"name": "aLines"},
          "mark": {"type": "point", "filled": false, "opacity": 0, "color": "#000", "strokeWidth": 1, "clip": true},
          "encoding": {
            "x": {"field": "x", "type": "quantitative"},
            "y": {"field": "y", "type": "quantitative"},
            "shape": {"field": "s", "type": "nominal",
              "scale": {"domain": ["CAI", "Fop", "CBI", "Nc"], "range": [
                "M-1,0H1",
                "M-1,0H-0.72M-0.52,0H-0.32M0.32,0H0.52M0.72,0H1M0,-0.32L0.33,0.26L-0.33,0.26Z",
                "M-1,0H-0.92M-0.76,0H-0.68M-0.52,0H-0.44M0.44,0H0.52M0.68,0H0.76M0.92,0H1M-0.36,0H0.36M0,-0.38V0.38",
                "M-1,0H-0.78M-0.62,0H-0.56M-0.42,0H-0.3M0.3,0H0.42M0.56,0H0.62M0.78,0H1M-0.26,-0.26L0.26,0.26M-0.26,0.26L0.26,-0.26"]},
              "legend": {"symbolOpacity": 1, "symbolStrokeColor": "#000"}}
          }
        }
      ]
    },
    {
      "width": 465, "height": 306,
      "title": {"text": "(b)", "dx": -70, "dy": 26},
      "resolve": {"scale": {"shape": "independent"}, "legend": {"shape": "independent"}},
      "layer": [
        {
          "data": {"name": "bPts"},
          "mark": {"type": "point", "filled": false, "opacity": 1, "color": "#b8b8b8", "strokeWidth": 1, "size": 110},
          "encoding": {
            "x": {"field": "x", "type": "quantitative", "scale": {"domain": [-0.031, 1.049], "nice": false, "zero": false},
              "axis": {"values": [0, 0.2, 0.4, 0.6, 0.8, 1], "format": ".1f", "title": "Fraction of 4 & 6 degenerate codons"}},
            "y": {"field": "y", "type": "quantitative", "scale": {"domain": [-5.39, 5.52], "nice": false, "zero": false},
              "axis": {"values": [-4, -2, 0, 2, 4], "format": "d", "title": "log CV", "titlePadding": 17}},
            "shape": {"field": "s", "type": "nominal",
              "scale": {"domain": ["CAI", "Fop", "CBI", "Nc"], "range": ["M0,0", "M0,-1L1.05,0.8L-1.05,0.8Z", "M-1,0H1M0,-1V1", "M-0.8,-0.8L0.8,0.8M-0.8,0.8L0.8,-0.8"]},
              "legend": null}
          }
        },
        {
          "data": {"name": "bLines"},
          "mark": {"type": "line", "color": "#000", "strokeWidth": 1, "clip": true, "interpolate": "monotone"},
          "encoding": {
            "x": {"field": "x", "type": "quantitative"},
            "y": {"field": "y", "type": "quantitative"},
            "strokeDash": {"field": "s", "type": "nominal", "scale": {"domain": ["Fop", "CAI", "CBI", "Nc"], "range": [[4, 3], [1, 0], [1, 2.5], [6, 2, 1, 2]]}, "legend": null}
          }
        },
        {
          "data": {"name": "bLines"},
          "mark": {"type": "point", "filled": false, "opacity": 0, "color": "#000", "strokeWidth": 1, "clip": true},
          "encoding": {
            "x": {"field": "x", "type": "quantitative"},
            "y": {"field": "y", "type": "quantitative"},
            "shape": {"field": "s", "type": "nominal",
              "scale": {"domain": ["CAI", "Fop", "CBI", "Nc"], "range": [
                "M-1,0H1",
                "M-1,0H-0.72M-0.52,0H-0.32M0.32,0H0.52M0.72,0H1M0,-0.32L0.33,0.26L-0.33,0.26Z",
                "M-1,0H-0.92M-0.76,0H-0.68M-0.52,0H-0.44M0.44,0H0.52M0.68,0H0.76M0.92,0H1M-0.36,0H0.36M0,-0.38V0.38",
                "M-1,0H-0.78M-0.62,0H-0.56M-0.42,0H-0.3M0.3,0H0.42M0.56,0H0.62M0.78,0H1M-0.26,-0.26L0.26,0.26M-0.26,0.26L0.26,-0.26"]},
              "legend": {"symbolOpacity": 1, "symbolStrokeColor": "#000"}}
          }
        }
      ]
    }
  ]
}
